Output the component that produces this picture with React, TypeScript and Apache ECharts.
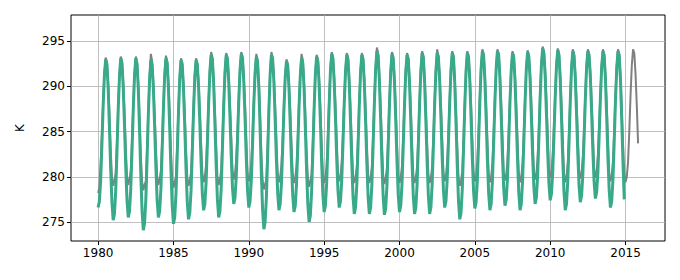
import React, { useEffect, useRef } from "react";
import * as echarts from "echarts";

// Monthly values (Jan..Dec), one row per year, starting 1980
const startYear = 1980;

const grayRows: number[][] = [
  [278.2, 278.8, 281.5, 284.7, 288.4, 291.5, 293.2, 292.7, 290.4, 287.0, 283.1, 280.0], // 1980
  [279.0, 279.6, 280.4, 283.9, 288.0, 291.4, 293.3, 292.8, 290.5, 287.2, 283.3, 280.1],
  [279.1, 279.7, 280.7, 284.1, 288.1, 291.5, 293.3, 292.7, 290.3, 286.6, 282.4, 279.5],
  [278.5, 279.1, 279.5, 283.2, 287.5, 291.1, 293.6, 292.8, 290.4, 287.1, 283.3, 280.1],
  [279.1, 279.7, 280.7, 284.1, 288.1, 291.5, 293.4, 292.8, 290.4, 286.9, 282.9, 279.8],
  [278.8, 279.4, 280.1, 283.6, 287.7, 291.2, 293.1, 292.6, 290.3, 287.0, 283.1, 280.0], // 1985
  [279.0, 279.6, 280.5, 283.9, 287.9, 291.3, 293.1, 292.6, 290.5, 287.4, 283.8, 280.4],
  [279.4, 280.0, 281.4, 284.7, 288.6, 291.9, 293.8, 293.2, 290.9, 287.4, 283.5, 280.1],
  [279.1, 279.7, 280.7, 284.3, 288.3, 291.8, 293.7, 293.2, 291.1, 288.1, 284.5, 280.7],
  [279.7, 280.3, 282.0, 285.2, 288.9, 292.1, 293.8, 293.3, 291.1, 288.0, 284.2, 280.5],
  [279.5, 280.1, 281.6, 284.8, 288.6, 291.8, 293.6, 292.9, 290.5, 286.8, 282.5, 279.6], // 1990
  [278.6, 279.2, 279.7, 283.5, 287.9, 291.7, 293.8, 293.2, 291.0, 287.8, 284.0, 280.4],
  [279.4, 280.0, 281.3, 284.4, 288.1, 291.3, 293.0, 292.5, 290.4, 287.3, 283.6, 280.3],
  [279.3, 279.9, 281.2, 284.4, 288.3, 291.5, 293.6, 292.9, 290.4, 287.0, 283.0, 279.9],
  [278.9, 279.5, 280.3, 283.9, 288.0, 291.6, 293.5, 293.0, 290.8, 287.6, 283.8, 280.3],
  [279.3, 279.9, 281.3, 284.7, 288.6, 292.0, 293.8, 293.3, 291.1, 288.0, 284.2, 280.5], // 1995
  [279.5, 280.1, 281.6, 284.9, 288.7, 291.9, 293.7, 293.2, 290.9, 287.6, 283.7, 280.3],
  [279.3, 279.9, 281.1, 284.5, 288.5, 291.9, 293.7, 293.2, 290.9, 287.6, 283.7, 280.3],
  [279.3, 279.9, 281.1, 284.7, 288.7, 292.2, 294.3, 293.6, 291.2, 287.8, 283.8, 280.2],
  [279.2, 279.8, 281.0, 284.5, 288.5, 291.9, 293.8, 293.3, 291.1, 287.8, 283.9, 280.3],
  [279.3, 279.9, 281.2, 284.6, 288.5, 291.9, 293.7, 293.2, 290.9, 287.6, 283.7, 280.3], // 2000
  [279.3, 279.9, 281.1, 284.6, 288.6, 292.0, 293.9, 293.4, 291.1, 287.7, 283.8, 280.3],
  [279.3, 279.9, 281.1, 284.6, 288.6, 292.0, 294.1, 293.4, 291.2, 288.0, 284.3, 280.5],
  [279.5, 280.1, 281.7, 285.0, 288.8, 292.1, 293.9, 293.4, 291.0, 287.5, 283.4, 280.0],
  [279.0, 279.6, 280.6, 284.2, 288.4, 292.0, 293.9, 293.4, 291.2, 288.0, 284.2, 280.5],
  [279.5, 280.1, 281.6, 285.0, 288.9, 292.3, 294.1, 293.6, 291.3, 288.0, 284.1, 280.4], // 2005
  [279.4, 280.0, 281.5, 284.9, 288.9, 292.3, 294.1, 293.6, 291.4, 288.2, 284.5, 280.6],
  [279.6, 280.2, 281.8, 285.1, 288.9, 292.1, 293.9, 293.4, 291.2, 287.9, 284.1, 280.4],
  [279.4, 280.0, 281.5, 284.9, 288.8, 292.2, 294.0, 293.5, 291.4, 288.2, 284.6, 280.7],
  [279.7, 280.3, 282.1, 285.4, 289.3, 292.6, 294.4, 293.9, 291.8, 288.6, 285.0, 280.9],
  [279.9, 280.5, 282.4, 285.6, 289.3, 292.5, 294.2, 293.7, 291.4, 288.1, 284.2, 280.4], // 2010
  [279.4, 280.0, 281.5, 284.9, 288.9, 292.3, 294.1, 293.6, 291.5, 288.4, 284.7, 280.8],
  [279.8, 280.4, 282.2, 285.4, 289.2, 292.4, 294.1, 293.6, 291.6, 288.6, 285.0, 280.9],
  [279.9, 280.5, 282.5, 285.7, 289.3, 292.4, 294.1, 293.6, 291.4, 288.1, 284.3, 280.5],
  [279.5, 280.1, 281.7, 285.1, 289.0, 292.3, 294.1, 293.6, 291.2, 287.7, 283.7, 280.4],
  [279.4, 280.0, 281.6, 285.0, 289.0, 292.3, 294.1, 293.7, 291.3, 287.8, 283.7], // 2015 (to Nov)
];

const greenRows: number[][] = [
  [276.6, 277.3, 279.5, 283.5, 287.8, 291.2, 293.0, 292.5, 289.8, 285.5, 280.9, 277.2], // 1980
  [275.2, 275.9, 278.4, 282.7, 287.4, 291.1, 293.1, 292.6, 289.9, 285.7, 281.1, 277.4],
  [275.5, 276.2, 278.7, 282.9, 287.5, 291.2, 293.1, 292.5, 289.7, 285.1, 280.2, 276.2],
  [274.1, 274.9, 277.5, 282.0, 286.9, 290.8, 292.9, 292.4, 289.8, 285.6, 281.1, 277.4],
  [275.5, 276.2, 278.7, 282.9, 287.5, 291.2, 293.1, 292.6, 289.8, 285.4, 280.7, 276.8],
  [274.8, 275.5, 278.1, 282.4, 287.1, 290.9, 292.9, 292.4, 289.7, 285.5, 280.9, 277.2], // 1985
  [275.3, 276.0, 278.5, 282.7, 287.3, 291.0, 292.9, 292.4, 289.9, 285.9, 281.6, 278.1],
  [276.3, 277.0, 279.4, 283.5, 288.0, 291.6, 293.5, 293.0, 290.3, 285.9, 281.3, 277.5],
  [275.5, 276.2, 278.7, 283.1, 287.7, 291.5, 293.5, 293.0, 290.5, 286.6, 282.3, 278.8],
  [277.0, 277.7, 280.0, 284.0, 288.3, 291.8, 293.6, 293.1, 290.5, 286.5, 282.0, 278.5],
  [276.6, 277.3, 279.6, 283.6, 288.0, 291.5, 293.3, 292.7, 289.9, 285.3, 280.3, 276.3], // 1990
  [274.2, 275.0, 277.7, 282.3, 287.3, 291.4, 293.5, 293.0, 290.4, 286.3, 281.8, 278.2],
  [276.3, 277.0, 279.3, 283.2, 287.5, 291.0, 292.8, 292.3, 289.8, 285.8, 281.4, 277.9],
  [276.1, 276.8, 279.2, 283.2, 287.7, 291.2, 293.1, 292.6, 289.8, 285.5, 280.8, 277.0],
  [275.0, 275.7, 278.3, 282.7, 287.4, 291.3, 293.3, 292.8, 290.2, 286.1, 281.6, 278.0],
  [276.1, 276.8, 279.3, 283.5, 288.0, 291.7, 293.6, 293.1, 290.5, 286.5, 282.0, 278.5], // 1995
  [276.6, 277.3, 279.6, 283.7, 288.1, 291.6, 293.5, 293.0, 290.3, 286.1, 281.5, 277.8],
  [275.9, 276.6, 279.1, 283.3, 287.9, 291.6, 293.5, 293.0, 290.3, 286.1, 281.5, 277.8],
  [275.9, 276.6, 279.1, 283.5, 288.1, 291.9, 293.9, 293.4, 290.6, 286.3, 281.6, 277.8],
  [275.8, 276.5, 279.0, 283.3, 287.9, 291.6, 293.6, 293.1, 290.5, 286.3, 281.7, 278.0],
  [276.1, 276.8, 279.2, 283.4, 287.9, 291.6, 293.5, 293.0, 290.3, 286.1, 281.5, 277.8], // 2000
  [275.9, 276.6, 279.1, 283.4, 288.0, 291.7, 293.7, 293.2, 290.5, 286.2, 281.6, 277.9],
  [275.9, 276.6, 279.1, 283.4, 288.0, 291.7, 293.7, 293.2, 290.6, 286.5, 282.1, 278.5],
  [276.6, 277.3, 279.7, 283.8, 288.2, 291.8, 293.7, 293.2, 290.4, 286.0, 281.2, 277.3],
  [275.3, 276.0, 278.6, 283.0, 287.8, 291.7, 293.7, 293.2, 290.6, 286.5, 282.0, 278.4],
  [276.5, 277.2, 279.6, 283.8, 288.3, 292.0, 293.9, 293.4, 290.7, 286.5, 281.9, 278.2], // 2005
  [276.3, 277.0, 279.5, 283.7, 288.3, 292.0, 293.9, 293.4, 290.8, 286.7, 282.3, 278.7],
  [276.8, 277.5, 279.8, 283.9, 288.3, 291.8, 293.7, 293.2, 290.6, 286.4, 281.9, 278.2],
  [276.3, 277.0, 279.5, 283.7, 288.2, 291.9, 293.8, 293.3, 290.8, 286.7, 282.4, 278.9],
  [277.0, 277.7, 280.1, 284.2, 288.7, 292.3, 294.2, 293.7, 291.2, 287.1, 282.8, 279.3],
  [277.4, 278.1, 280.4, 284.4, 288.7, 292.2, 294.0, 293.5, 290.8, 286.6, 282.0, 278.3], // 2010
  [276.3, 277.0, 279.5, 283.7, 288.3, 292.0, 293.9, 293.4, 290.9, 286.9, 282.5, 279.0],
  [277.2, 277.9, 280.2, 284.2, 288.6, 292.1, 293.9, 293.4, 291.0, 287.1, 282.8, 279.4],
  [277.6, 278.3, 280.5, 284.5, 288.7, 292.1, 293.9, 293.4, 290.8, 286.6, 282.1, 278.5],
  [276.6, 277.3, 279.7, 283.9, 288.4, 292.0, 293.9, 293.4, 290.6, 286.2, 281.5, 277.5], // 2014
];

const xTicks = [1980, 1985, 1990, 1995, 2000, 2005, 2010, 2015];
const yTicks = [275, 280, 285, 290, 295];

function toSeries(rows: number[][]): [number, number][] {
  const out: [number, number][] = [];
  rows.forEach((row, yi) => {
    row.forEach((v, m) => {
      out.push([startYear + yi + m / 12, v]);
    });
  });
  return out;
}

export default function App() {
  const ref = useRef<HTMLDivElement>(null);
  useEffect(() => {
    if (!ref.current) return;
    const chart = echarts.init(ref.current, null, { renderer: "svg" });
    const font = "DejaVu Sans";
    chart.setOption({
      animation: false,
      backgroundColor: "#ffffff",
      grid: {
        left: 71,
        right: 15,
        top: 15,
        bottom: 39,
        show: true,
        borderColor: "#000000",
        borderWidth: 1,
        backgroundColor: "transparent",
      },
      xAxis: {
        type: "value",
        min: 1978.2,
        max: 2017.62,
        axisLine: { show: false },
        axisTick: {
          show: true,
          length: 4,
          inside: false,
          customValues: xTicks,
          lineStyle: { color: "#000000", width: 1 },
        },
        axisLabel: {
          customValues: xTicks,
          color: "#000000",
          fontFamily: font,
          fontSize: 12,
          margin: 6,
          formatter: (v: number) => String(Math.round(v)),
        },
        splitLine: { show: true, lineStyle: { color: "#b0b0b0", width: 0.8 } },
      },
      yAxis: {
        type: "value",
        min: 272.9,
        max: 297.9,
        name: "K",
        nameLocation: "middle",
        nameGap: 45,
        nameTextStyle: { color: "#000000", fontFamily: font, fontSize: 12 },
        axisLine: { show: false },
        axisTick: {
          show: true,
          length: 4,
          inside: false,
          customValues: yTicks,
          lineStyle: { color: "#000000", width: 1 },
        },
        axisLabel: {
          customValues: yTicks,
          color: "#000000",
          fontFamily: font,
          fontSize: 12,
          margin: 6,
          formatter: (v: number) => String(Math.round(v)),
        },
        splitLine: { show: true, lineStyle: { color: "#b0b0b0", width: 0.8 } },
      },
      series: [
        {
          type: "line",
          data: toSeries(grayRows),
          showSymbol: false,
          symbol: "none",
          silent: true,
          lineStyle: { color: "#808080", width: 2 },
          z: 2,
        },
        {
          type: "line",
          data: toSeries(greenRows),
          showSymbol: false,
          symbol: "none",
          silent: true,
          lineStyle: { color: "#38aa8a", width: 3 },
          z: 3,
        },
      ],
    });
    return () => chart.dispose();
  }, []);
  return (
    <div
      ref={ref}
      style={{ position: "absolute", left: 0, top: 0, width: 680, height: 280 }}
    />
  );
}
